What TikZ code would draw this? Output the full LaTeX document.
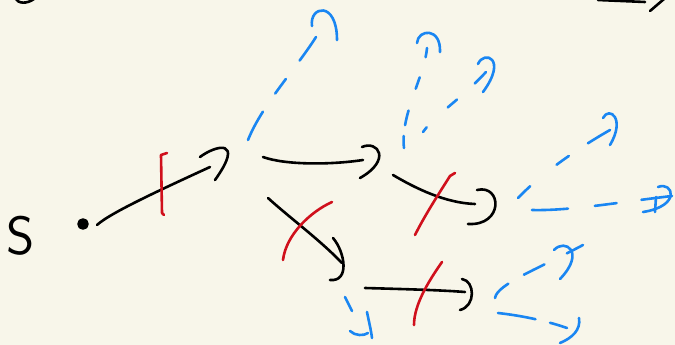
\documentclass[tikz,border=0pt]{standalone}
\usepackage{fontspec}
\usepackage{xcolor}
\definecolor{paper}{HTML}{F8F6EA}
\definecolor{penblue}{HTML}{1A86F2}
\definecolor{penred}{HTML}{D0101C}
\usepackage{tikz}
\tikzset{
    ink/.style = {line width=2.6pt, line cap=round, line join=round},
    blackink/.style = {ink, color=black},
    redink/.style = {ink, color=penred},
    blueink/.style = {ink, color=penblue},
}
\begin{document}
\begin{tikzpicture}[x=1pt, y=-1pt]
        % page
        \fill[paper] (0,0) rectangle (675,345);
        \useasboundingbox (0,0) rectangle (675,345);
        % stops of the walk
        \coordinate (src) at (83,224);
        \coordinate (srcout) at (97,225);
        \coordinate (a) at (210,167);
        \coordinate (aE) at (263,157);
        \coordinate (aSE) at (268,198);
        \coordinate (aN) at (248,140);
        \coordinate (b) at (363,160);
        \coordinate (bSE) at (393,175);
        \coordinate (bN) at (404,148);
        \coordinate (bNE) at (423,132);
        \coordinate (c) at (342,263);
        \coordinate (cE) at (365,288);
        \coordinate (cS) at (345,297);
        \coordinate (d) at (475,204);
        \coordinate (dNE) at (518,198);
        \coordinate (dE) at (532,210);
        \coordinate (e) at (465,292);
        \coordinate (eNE) at (495,298);
        \coordinate (eE) at (498,313);
        % loose ends
        \coordinate (aNend) at (316,37);
        \coordinate (bNend) at (427,48);
        \coordinate (bNEend) at (486,72);
        \coordinate (cSend) at (352,311);
        \coordinate (dNEend) at (610,130);
        \coordinate (dEend) at (672,196);
        \coordinate (eNEend) at (583,245);
        \coordinate (eEend) at (567,328);
        % start
        \node[font=\sffamily\fontsize{54}{54}\selectfont, inner sep=0pt] (start) at (21,236) {S};
        \draw[blackink, fill=black] (src) circle (4.5);
        % black walk
        \draw[blackink] (srcout) .. controls (110,213) and (160,190) .. (a);
        \draw[blackink] (200,157) .. controls (216,145) and (245,138) .. (215,180);
        \draw[blackink] (aE) .. controls (285,165) and (330,165) .. (b);
        \draw[blackink] (362,147) .. controls (378,140) and (392,160) .. (360,178);
        \draw[blackink] (aSE) .. controls (290,218) and (320,240) .. (c);
        \draw[blackink] (333,238) .. controls (345,252) and (350,282) .. (330,280);
        \draw[blackink] (bSE) .. controls (415,188) and (445,203) .. (d);
        \draw[blackink] (477,190) .. controls (502,184) and (504,226) .. (468,224);
        \draw[blackink] (cE) .. controls (400,289) and (440,290) .. (e);
        \draw[blackink] (462,279) .. controls (475,281) and (476,306) .. (460,310);
        % cut off at the top
        \draw[blackink] (15,-2) .. controls (18,4) and (27,4) .. (34,-1);
        \draw[blackink] (598,0) -- (645,2);
        \draw[blackink] (650,11) -- (664,-1);
        % blocked
        \draw[redink] (167,153) -- (161,155) -- (162,213) -- (164,215);
        \draw[redink] (332,202) .. controls (310,212) and (286,235) .. (283,260);
        \draw[redink] (455,173) -- (450,176) .. controls (438,195) and (425,215) .. (415,235);
        \draw[redink] (442,262) .. controls (428,282) and (414,305) .. (414,325);
        % open moves
        \draw[blueink, dash pattern=on 32pt off 22pt on 18pt off 23pt on 40pt off 40pt]
            (aN) .. controls (262,105) and (295,70) .. (aNend);
        \draw[blueink] (312,26) .. controls (309,6) and (337,0) .. (337,40);
        \draw[blueink, dash pattern=on 12pt off 11pt on 15pt off 23pt on 12pt off 21pt on 20pt off 20pt]
            (bN) .. controls (400,115) and (425,75) .. (bNend);
        \draw[blueink] (417,43) .. controls (418,29) and (441,27) .. (440,52);
        \draw[blueink, dash pattern=on 6pt off 29pt on 12pt off 24pt on 30pt off 30pt]
            (bNE) .. controls (435,115) and (460,100) .. (bNEend);
        \draw[blueink] (478,64) .. controls (484,50) and (508,58) .. (483,92);
        \draw[blueink, dash pattern=on 17pt off 34pt on 15pt off 23pt on 30pt off 30pt]
            (dNE) .. controls (540,175) and (575,150) .. (dNEend);
        \draw[blueink] (603,118) .. controls (609,106) and (626,118) .. (610,145);
        \draw[blueink, dash pattern=on 36pt off 27pt on 22pt off 25pt on 40pt off 40pt]
            (dE) .. controls (570,211) and (620,202) .. (dEend);
        \draw[blueink] (658,187) .. controls (673,181) and (682,206) .. (643,212);
        \draw[blueink] (656,197) -- (655,212);
        \draw[blueink, dash pattern=on 20pt off 18pt on 23pt off 25pt on 30pt off 30pt]
            (eNE) .. controls (497,284) and (540,268) .. (eNEend);
        \draw[blueink] (554,250) .. controls (565,238) and (586,252) .. (560,279);
        \draw[blueink, dash pattern=on 38pt off 15pt on 30pt off 30pt]
            (eE) .. controls (525,316) and (550,322) .. (eEend);
        \draw[blueink] (579,318) .. controls (581,330) and (572,338) .. (560,343);
        \draw[blueink] (cS) -- (cSend);
        \draw[blueink] (350,331) .. controls (355,336) and (364,336) .. (368,333);
        \draw[blueink] (367,312) .. controls (369,322) and (371,330) .. (372,338);
\end{tikzpicture}
\end{document}
